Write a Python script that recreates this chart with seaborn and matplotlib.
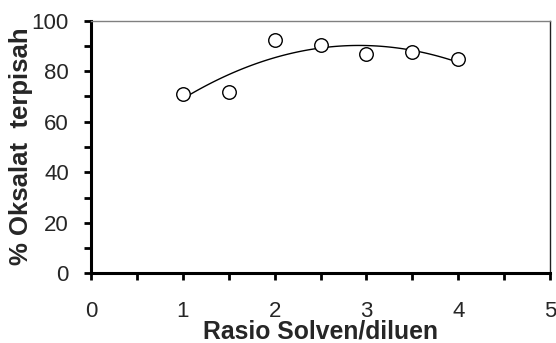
import matplotlib
matplotlib.use("Agg")
import matplotlib.pyplot as plt
import numpy as np
import pandas as pd
import seaborn as sns
from matplotlib.ticker import MultipleLocator

# Data
rasio = [1.0, 1.5, 2.0, 2.5, 3.0, 3.5, 4.0]
oksalat = [70.9, 71.8, 92.2, 90.4, 86.7, 87.5, 84.7]

df = pd.DataFrame({"rasio": rasio, "oksalat": oksalat})

sns.set_style("white")
plt.rcParams["font.family"] = ["Liberation Sans", "DejaVu Sans"]

fig = plt.figure(figsize=(5.56, 3.43), dpi=100)
ax = fig.add_axes([0.1637, 0.2032, 0.8255, 0.7365])

# polynomial trendline (order 2) through the points
coef = np.polyfit(df["rasio"], df["oksalat"], 2)
xs = np.linspace(df["rasio"].min(), df["rasio"].max(), 100)
sns.lineplot(x=xs, y=np.polyval(coef, xs), color="black", linewidth=1.0, ax=ax)

sns.scatterplot(data=df, x="rasio", y="oksalat", marker="o", s=95,
                facecolor="white", edgecolor="black", linewidth=1.0, ax=ax, zorder=3)

ax.set_xlim(0, 5)
ax.set_ylim(0, 100)
ax.xaxis.set_major_locator(MultipleLocator(1))
ax.xaxis.set_minor_locator(MultipleLocator(0.5))
ax.yaxis.set_major_locator(MultipleLocator(20))
ax.yaxis.set_minor_locator(MultipleLocator(10))
ax.tick_params(which="both", direction="out", length=5, width=2, color="black",
               labelsize=16, bottom=True, left=True)
ax.tick_params(axis="x", pad=15)
ax.tick_params(axis="y", pad=11)

for s in ["left", "bottom"]:
    ax.spines[s].set_linewidth(2.2)
    ax.spines[s].set_color("black")
for s in ["top", "right"]:
    ax.spines[s].set_linewidth(1.0)
ax.spines["top"].set_color("#808080")
ax.spines["right"].set_color("#202020")

ax.set_xlabel("Rasio Solven/diluen", fontsize=17.8, fontweight="bold", labelpad=-2)
ax.set_ylabel("% Oksalat  terpisah", fontsize=18.5, fontweight="bold")
ax.yaxis.set_label_coords(-0.126, 0.505)

fig.savefig("out.png", dpi=100)
